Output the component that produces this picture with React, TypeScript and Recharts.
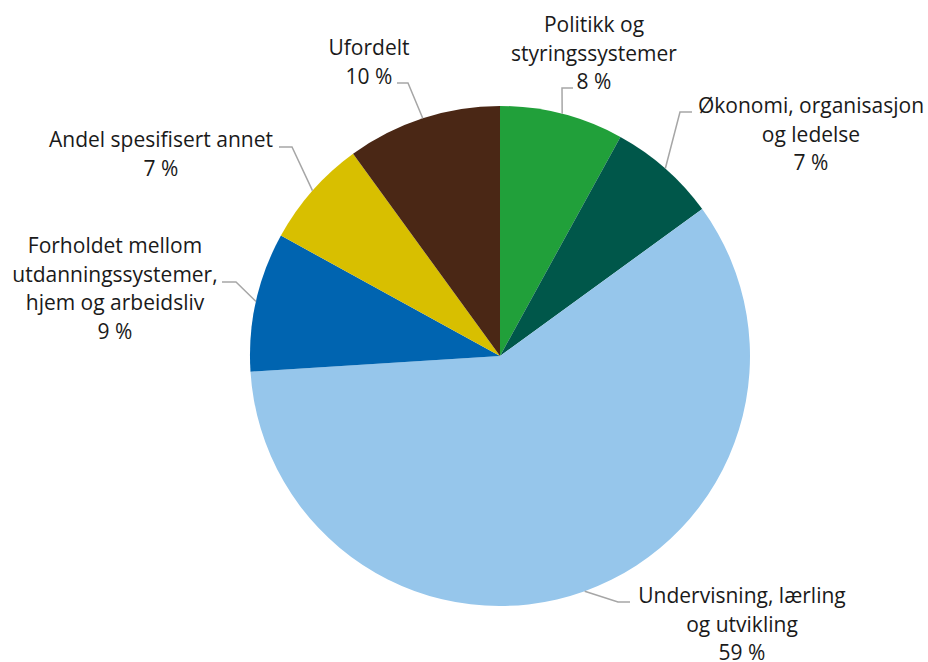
import React from "react";
import { PieChart, Pie, Cell } from "recharts";

const categories: string[][] = [
  ["Politikk og", "styringssystemer"],
  ["Økonomi, organisasjon", "og ledelse"],
  ["Undervisning, lærling", "og utvikling"],
  ["Forholdet mellom", "utdanningssystemer,", "hjem og arbeidsliv"],
  ["Andel spesifisert annet"],
  ["Ufordelt"],
];
const values: number[] = [8, 7, 59, 9, 7, 10];
const percentLabels: string[] = ["8 %", "7 %", "59 %", "9 %", "7 %", "10 %"];
const colors: string[] = ["#21a03a", "#00574a", "#96c6eb", "#0064b0", "#d8bf00", "#4a2715"];

// label layout: elbow point, horizontal end x, text centre x, first baseline y
const labelLayout = [
  { ex: 562, ey: 88, hx: 573, tx: 594, ty: 32 },
  { ex: 680, ey: 112, hx: 692, tx: 811, ty: 113 },
  { ex: 618, ey: 602, hx: 630, tx: 742, ty: 603 },
  { ex: 236, ey: 282, hx: 222, tx: 115, ty: 253 },
  { ex: 292, ey: 147, hx: 279, tx: 161, ty: 147 },
  { ex: 408, ey: 83, hx: 397, tx: 369, ty: 55 },
];

const data = categories.map((c, i) => ({ name: c.join(" "), value: values[i] }));

const RADIAN = Math.PI / 180;
const LINE_H = 28.6;

const renderLabel = (props: any) => {
  const { cx, cy, midAngle, outerRadius, index } = props;
  const sx = cx + outerRadius * Math.cos(-midAngle * RADIAN);
  const sy = cy + outerRadius * Math.sin(-midAngle * RADIAN);
  const l = labelLayout[index];
  const lines = [...categories[index], percentLabels[index]];
  return (
    <g key={`lbl-${index}`}>
      <polyline
        points={`${sx},${sy} ${l.ex},${l.ey} ${l.hx},${l.ey}`}
        fill="none"
        stroke="#a6a6a6"
        strokeWidth={1.5}
      />
      <text
        x={l.tx}
        y={l.ty}
        textAnchor="middle"
        fill="#1a1a1a"
        fontFamily="'Open Sans', sans-serif"
        fontSize={21}
      >
        {lines.map((ln, k) => (
          <tspan key={k} x={l.tx} y={l.ty + k * LINE_H}>
            {ln}
          </tspan>
        ))}
      </text>
    </g>
  );
};

export default function App() {
  return (
    <div style={{ position: "absolute", left: 0, top: 0, width: 928, height: 662, background: "#fff" }}>
      <PieChart width={928} height={662} margin={{ top: 0, right: 0, bottom: 0, left: 0 }}>
        <Pie
          data={data}
          dataKey="value"
          nameKey="name"
          cx={500}
          cy={356}
          outerRadius={250}
          startAngle={90}
          endAngle={-270}
          stroke="none"
          label={renderLabel}
          labelLine={false}
          isAnimationActive={false}
        >
          {data.map((_, i) => (
            <Cell key={i} fill={colors[i]} />
          ))}
        </Pie>
      </PieChart>
    </div>
  );
}
